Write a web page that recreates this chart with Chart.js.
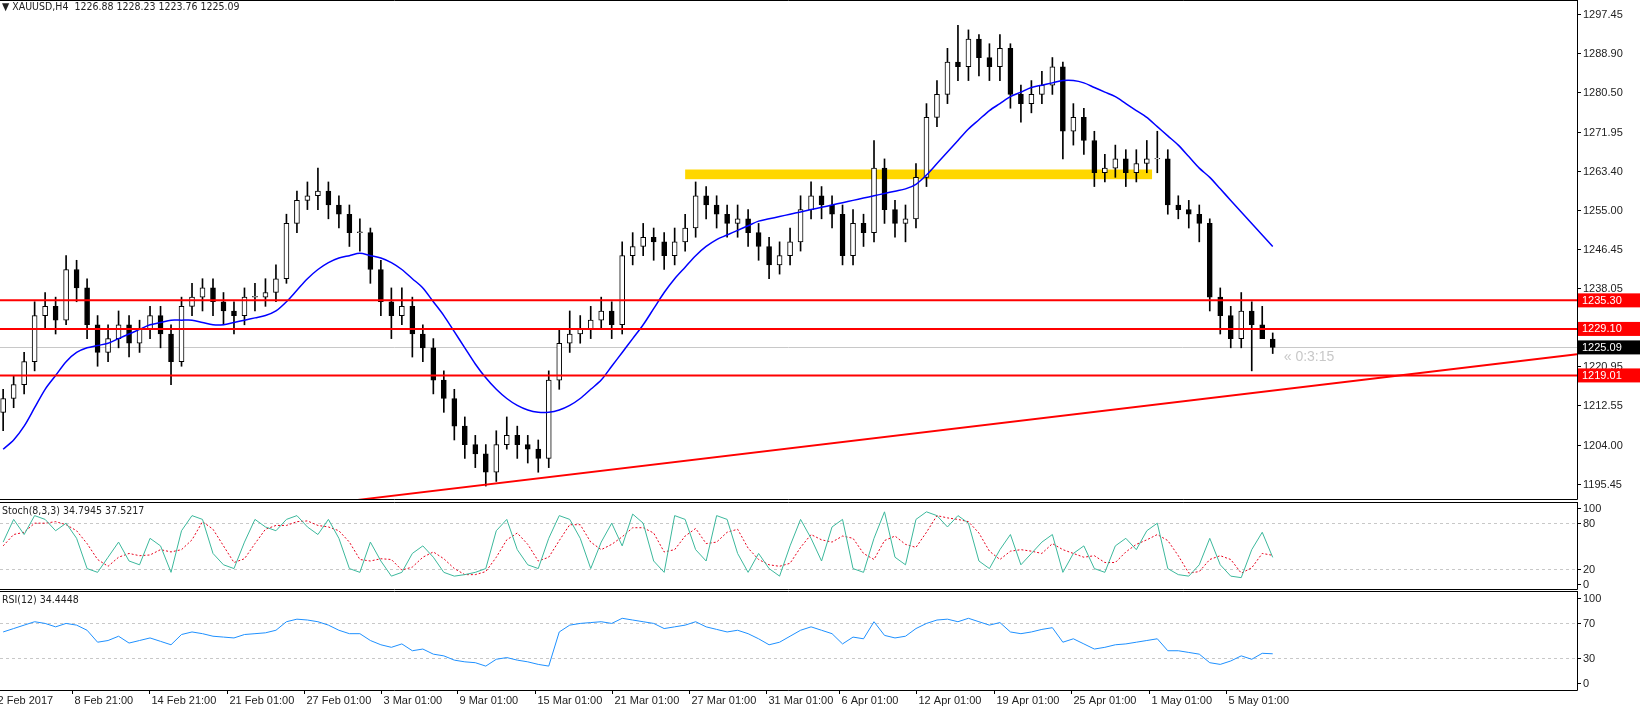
<!DOCTYPE html>
<html><head><meta charset="utf-8">
<script src="https://cdn.jsdelivr.net/npm/chart.js@4"></script>
<style>
html,body{margin:0;padding:0;background:#fff;width:1640px;height:707px;overflow:hidden}
.p{position:absolute;left:0;width:1640px}
canvas{display:block}
</style></head><body>
<div class="p" style="top:0;height:500px"><canvas id="cMain" width="1640" height="500"></canvas></div>
<div class="p" style="top:502px;height:88px"><canvas id="cSto" width="1640" height="88"></canvas></div>
<div class="p" style="top:591px;height:116px"><canvas id="cRsi" width="1640" height="116"></canvas></div>
<script>
// ---------- DATA ----------
const symbolTitle = "XAUUSD,H4  1226.88 1228.23 1223.76 1225.09";
const opens = [1211,1214,1217,1222,1232,1234,1231,1242,1238,1230,1224,1227,1230,1226,1229,1232,1228,1222,1234,1236,1238,1235,1233,1232,1236,1236,1237,1240,1252,1257,1258,1259,1256,1254,1250,1250,1242,1235,1232,1234,1228,1225,1218,1214,1208,1204,1202,1198,1204,1206,1204,1203,1201,1218,1226,1228,1229,1231,1233,1230,1245,1247,1249,1248,1245,1248,1251,1258,1256,1254,1252,1253,1250,1247,1243,1245,1248,1255,1258,1256,1254,1245,1252,1250,1264,1255,1252,1253,1262,1275,1280,1287,1286,1292,1288,1286,1290,1280,1278,1280,1282,1286,1272,1275,1270,1263,1264,1266,1263,1265,1266,1266,1256,1255,1254,1252,1236,1232,1227,1233,1230,1226.88];
const closes = [1214,1217,1222,1232,1234,1231,1242,1238,1230,1224,1227,1230,1226,1229,1232,1228,1222,1234,1236,1238,1235,1233,1232,1236,1236,1237,1240,1252,1257,1258,1259,1256,1254,1250,1250,1242,1235,1232,1234,1228,1225,1218,1214,1208,1204,1202,1198,1204,1206,1204,1203,1201,1218,1226,1228,1229,1231,1233,1230,1245,1247,1249,1248,1245,1248,1251,1258,1256,1254,1252,1253,1250,1247,1243,1245,1248,1255,1258,1256,1254,1245,1252,1250,1264,1255,1252,1253,1262,1275,1280,1287,1286,1292,1288,1286,1290,1280,1278,1280,1282,1286,1272,1275,1270,1263,1264,1266,1263,1265,1266,1266,1256,1255,1254,1252,1236,1232,1227,1233,1230,1227,1225.09];
const highs = [1216,1219,1224,1235,1237,1236,1245,1244,1240,1232,1230,1233,1232,1231,1234,1234,1230,1236,1239,1240,1240,1237,1235,1238,1239,1240,1243,1254,1259,1261,1264,1261,1258,1256,1253,1251,1244,1238,1238,1236,1230,1227,1220,1216,1210,1206,1204,1207,1210,1208,1206,1205,1220,1229,1233,1232,1234,1236,1235,1248,1250,1252,1251,1250,1251,1254,1261,1260,1258,1256,1256,1255,1252,1249,1248,1251,1258,1261,1260,1258,1256,1255,1254,1270,1266,1257,1256,1265,1278,1283,1290,1295,1294,1293,1291,1293,1291,1282,1283,1285,1288,1287,1278,1277,1272,1267,1269,1268,1268,1270,1272,1268,1258,1257,1256,1253,1238,1234,1237,1235,1234,1228.23];
const lows = [1207,1212,1215,1220,1229,1228,1230,1235,1227,1221,1222,1225,1223,1224,1227,1225,1217,1221,1232,1233,1232,1230,1228,1230,1233,1234,1235,1239,1250,1255,1255,1253,1251,1247,1246,1239,1232,1227,1230,1223,1222,1215,1211,1205,1201,1199,1195,1196,1203,1201,1200,1198,1199,1216,1224,1226,1227,1229,1227,1228,1243,1245,1244,1242,1243,1246,1249,1253,1251,1249,1249,1247,1244,1240,1241,1243,1246,1253,1253,1251,1243,1243,1247,1248,1252,1249,1248,1251,1260,1273,1278,1283,1283,1284,1283,1283,1277,1274,1276,1278,1280,1266,1269,1267,1260,1261,1262,1260,1261,1263,1263,1254,1253,1251,1248,1233,1228,1225,1225,1220,1227,1223.76];
const maValues = [1203,1205,1208,1212,1216,1219,1222,1224,1225,1225.5,1226,1227,1228,1229,1230,1230.5,1231,1231,1231,1230.5,1230,1230,1230.5,1231,1231.5,1232,1233,1235,1237.5,1240,1242,1243.5,1244.5,1245,1245.5,1245,1244.5,1243.5,1242,1240,1238,1235,1232,1228.5,1225,1221.5,1218.5,1216,1214,1212.5,1211.5,1211,1211,1211.5,1212.5,1214,1216,1218,1221,1224,1227,1230,1233.5,1237,1240,1242.5,1245,1247,1248.5,1249.5,1250.5,1251.5,1252.5,1253,1253.5,1254,1254.5,1255,1255.5,1256,1256.5,1257,1257.5,1258,1258.5,1259,1259.5,1260.5,1262.5,1265,1267.5,1270,1272.5,1274.5,1276.5,1278,1279.5,1280.5,1281.5,1282,1282.5,1283,1283,1282.5,1281.5,1280.5,1279.5,1278,1276.5,1275,1273,1271,1269,1266.5,1264,1262,1259.5,1257,1254.5,1252,1249.5,1247];
const stochK = [55,85,65,90,85,70,80,60,20,15,35,55,30,25,60,50,15,70,90,85,40,25,20,55,85,75,70,85,90,75,65,85,60,20,15,55,30,10,15,40,50,35,15,10,12,15,20,70,85,45,25,20,60,90,85,60,20,55,80,50,92,80,30,15,90,85,45,30,90,85,40,15,40,20,10,50,85,60,30,75,85,20,15,60,95,35,25,85,95,90,75,90,80,30,20,45,65,25,40,55,65,15,40,50,20,15,50,60,45,70,80,20,12,10,25,60,25,10,8,45,68,34.79];
const stochD = [50,65,68,80,80,82,78,70,53,32,23,35,40,37,38,45,42,45,58,82,72,50,28,33,53,72,77,77,82,83,77,75,70,55,32,30,33,32,18,22,35,42,33,20,12,12,16,35,58,67,52,30,35,57,78,78,55,45,52,62,74,74,67,42,45,63,73,53,55,68,72,47,32,25,23,27,48,65,58,55,63,60,40,32,57,63,52,48,68,90,87,85,82,67,43,32,43,45,43,40,53,45,40,35,37,28,28,42,52,58,65,57,37,14,16,32,37,32,14,21,40,37.52];
const rsiValues = [60,64,68,72,70,66,70,68,62,48,50,55,47,50,53,49,45,57,60,58,55,54,53,57,58,59,62,72,75,74,72,68,62,58,58,50,45,42,46,38,40,34,32,27,25,24,20,28,30,27,25,22,20,60,68,70,71,72,70,76,74,72,70,64,66,68,72,66,63,60,62,58,52,45,48,55,62,66,62,58,46,54,52,72,56,53,55,64,70,74,75,72,76,72,68,71,60,58,60,63,65,48,52,46,40,42,45,46,48,50,52,38,38,36,34,24,22,26,32,28,35,34.44];
const priceTicks = [1297.45,1288.90,1280.50,1271.95,1263.40,1255.00,1246.45,1238.05,1229.50,1220.95,1212.55,1204.00,1195.45];
const levelsRed = [1235.30,1229.10,1219.01];
const lastPrice = 1225.09;
const zone = {x0:65, x1:109.5, y0:1261.6, y1:1263.7};
const trendX = [33.8, 150];
const trendY = [1192, 1223.6];
const timeTickX = [-0.8,6.55,13.9,21.3,28.66,36.0,43.3,50.7,58.0,65.35,72.7,79.7,87.0,94.4,101.8,109.2,116.5];
const timeTickLabels = ["2 Feb 2017","8 Feb 21:00","14 Feb 21:00","21 Feb 01:00","27 Feb 01:00","3 Mar 01:00","9 Mar 01:00","15 Mar 01:00","21 Mar 01:00","27 Mar 01:00","31 Mar 01:00","6 Apr 01:00","12 Apr 01:00","19 Apr 01:00","25 Apr 01:00","1 May 01:00","5 May 01:00"];
const stochTicks = [100,80,20,0];
const stochLevels = [80,20];
const rsiTicks = [100,70,30,0];
const rsiLevels = [70,30];

// ---------- helpers ----------
const X_MIN=-0.3, X_MAX=150.0, RP=63;
const FONT='11px "Liberation Sans", Arial, sans-serif';
const SMALL='10.5px "DejaVu Sans Condensed", "Liberation Sans", sans-serif';
function xScale(){return {type:'linear',min:X_MIN,max:X_MAX,display:false,offset:false};}
function frame(ticks, fmt, extra){
  return {id:'frame'+Math.floor(Math.random()*1e6),afterDraw(ch){
    const c=ch.ctx,a=ch.chartArea,y=ch.scales.y;
    c.save();
    c.strokeStyle='#000';c.lineWidth=1;
    c.beginPath();c.moveTo(a.right+0.5,0);c.lineTo(a.right+0.5,a.bottom+0.5);
    c.moveTo(0,a.bottom+0.5);c.lineTo(a.right+0.5,a.bottom+0.5);
    c.moveTo(0,a.top+0.5);c.lineTo(a.right+0.5,a.top+0.5);c.stroke();
    c.font=FONT;c.fillStyle='#222';c.textBaseline='middle';c.textAlign='left';
    ticks.forEach(t=>{const py=Math.round(y.getPixelForValue(t))+0.5;
      c.beginPath();c.moveTo(a.right,py);c.lineTo(a.right+4,py);c.stroke();
      c.fillText(fmt(t),a.right+6,py);});
    if(extra)extra(ch,c,a,y);
    c.restore();
  }};
}
const levelPlugin=(levels)=>({id:'lv'+Math.floor(Math.random()*1e6),beforeDatasetsDraw(ch){
  const c=ch.ctx,a=ch.chartArea,y=ch.scales.y;c.save();
  c.strokeStyle='#c8c8c8';c.setLineDash([3,3]);c.lineWidth=1;
  levels.forEach(l=>{const py=Math.round(y.getPixelForValue(l))+0.5;c.beginPath();c.moveTo(a.left,py);c.lineTo(a.right,py);c.stroke();});
  c.restore();}});
const baseOpts=(pad,ymin,ymax)=>({responsive:false,animation:false,devicePixelRatio:1,
    layout:{padding:pad},
    plugins:{legend:{display:false},tooltip:{enabled:false}},
    scales:{x:xScale(),y:{min:ymin,max:ymax,display:false}}});

// ---------- MAIN ----------
const idx = closes.map((_,i)=>i);
const wicks = idx.map(i=>({x:i,y:[lows[i],highs[i]]}));
const bodies = idx.map(i=>{const lo=Math.min(opens[i],closes[i]),hi=Math.max(opens[i],closes[i]);return {x:i,y:[lo,hi===lo?hi+0.15:hi]};});
const bodyFill = idx.map(i=>closes[i]>=opens[i]?'#ffffff':'#000000');
const hLine=(v,col,w)=>({type:'line',data:[{x:X_MIN,y:v},{x:X_MAX,y:v}],borderColor:col,borderWidth:w,pointRadius:0,order:0});

const mainExtra=(ch,c,a,y)=>{
  const xs=ch.scales.x;
  c.font=SMALL;c.fillStyle='#222';c.textBaseline='top';c.textAlign='left';
  c.fillText('\u25BC '+symbolTitle,2,2);
  c.font=FONT;
  const box=(v,bg)=>{const py=y.getPixelForValue(v);c.fillStyle=bg;c.fillRect(a.right+1,py-7,RP,14);
    c.fillStyle='#fff';c.textBaseline='middle';c.fillText(v.toFixed(2),a.right+5,py+0.5);};
  levelsRed.forEach(v=>box(v,'#ff0000'));box(lastPrice,'#000000');
  c.font='14px "Liberation Sans", Arial, sans-serif';c.fillStyle='#c8c8c8';c.textBaseline='middle';
  c.fillText('\u00AB 0:3:15',xs.getPixelForValue(121)+11,y.getPixelForValue(lastPrice)+10);
};
const zonePlugin={id:'zone',beforeDatasetsDraw(ch){const c=ch.ctx,x=ch.scales.x,y=ch.scales.y;
  c.save();c.fillStyle='#ffd700';const px0=x.getPixelForValue(zone.x0),px1=x.getPixelForValue(zone.x1),py0=y.getPixelForValue(zone.y1),py1=y.getPixelForValue(zone.y0);
  c.fillRect(px0,py0,px1-px0,py1-py0);
  c.strokeStyle='#c8c8c8';c.lineWidth=1;const pl=Math.round(y.getPixelForValue(lastPrice))+0.5;c.beginPath();c.moveTo(0,pl);c.lineTo(ch.chartArea.right,pl);c.stroke();
  c.restore();}};

new Chart(document.getElementById('cMain'),{
  type:'bar',
  data:{datasets:[
    {type:'bar',data:wicks,backgroundColor:'#000',barThickness:1,order:3,grouped:false},
    {type:'bar',data:bodies,backgroundColor:bodyFill,borderColor:'#000',borderWidth:1,borderSkipped:false,barThickness:5,order:2,grouped:false},
    {type:'line',data:idx.map(i=>({x:i,y:maValues[i]})),borderColor:'#0000ff',borderWidth:1.5,pointRadius:0,tension:0.3,order:1},
    ...levelsRed.map(v=>hLine(v,'#ff0000',2)),
    {type:'line',data:[{x:trendX[0],y:trendY[0]},{x:trendX[1],y:trendY[1]}],borderColor:'#ff0000',borderWidth:2,pointRadius:0,order:0}
  ]},
  options:baseOpts({right:RP,left:0,top:0,bottom:1},1192.19,1300.49),
  plugins:[zonePlugin,frame(priceTicks,t=>t.toFixed(2),mainExtra)]
});

// ---------- STOCH ----------
const stoExtra=(ch,c)=>{c.font=SMALL;c.fillStyle='#222';c.textBaseline='top';c.textAlign='left';c.fillText('Stoch(8,3,3) 34.7945 37.5217',2,4);};
new Chart(document.getElementById('cSto'),{
  type:'line',
  data:{datasets:[
    {data:idx.map(i=>({x:i,y:stochK[i]})),borderColor:'#3cb89c',borderWidth:1,pointRadius:0},
    {data:idx.map(i=>({x:i,y:stochD[i]})),borderColor:'#e8001c',borderWidth:1,borderDash:[2,2],pointRadius:0}
  ]},
  options:baseOpts({right:RP,left:0,top:0,bottom:1},-7,108),
  plugins:[levelPlugin(stochLevels),frame(stochTicks,t=>String(t),stoExtra)]
});

// ---------- RSI ----------
const rsiExtra=(ch,c,a)=>{
  c.font=SMALL;c.fillStyle='#222';c.textBaseline='top';c.textAlign='left';c.fillText('RSI(12) 34.4448',2,4);
  c.font=FONT;
  const xs=ch.scales.x;c.strokeStyle='#000';
  timeTickX.forEach((t,k)=>{const px=Math.round(xs.getPixelForValue(t))+0.5;
    c.beginPath();c.moveTo(px,a.bottom);c.lineTo(px,a.bottom+4);c.stroke();
    c.fillText(timeTickLabels[k],px+2,a.bottom+5);});
};
new Chart(document.getElementById('cRsi'),{
  type:'line',
  data:{datasets:[{data:idx.map(i=>({x:i,y:rsiValues[i]})),borderColor:'#1e90ff',borderWidth:1,pointRadius:0}]},
  options:baseOpts({right:RP,left:0,top:0,bottom:17},-8,108),
  plugins:[levelPlugin(rsiLevels),frame(rsiTicks,t=>String(t),rsiExtra)]
});
</script></body></html>
